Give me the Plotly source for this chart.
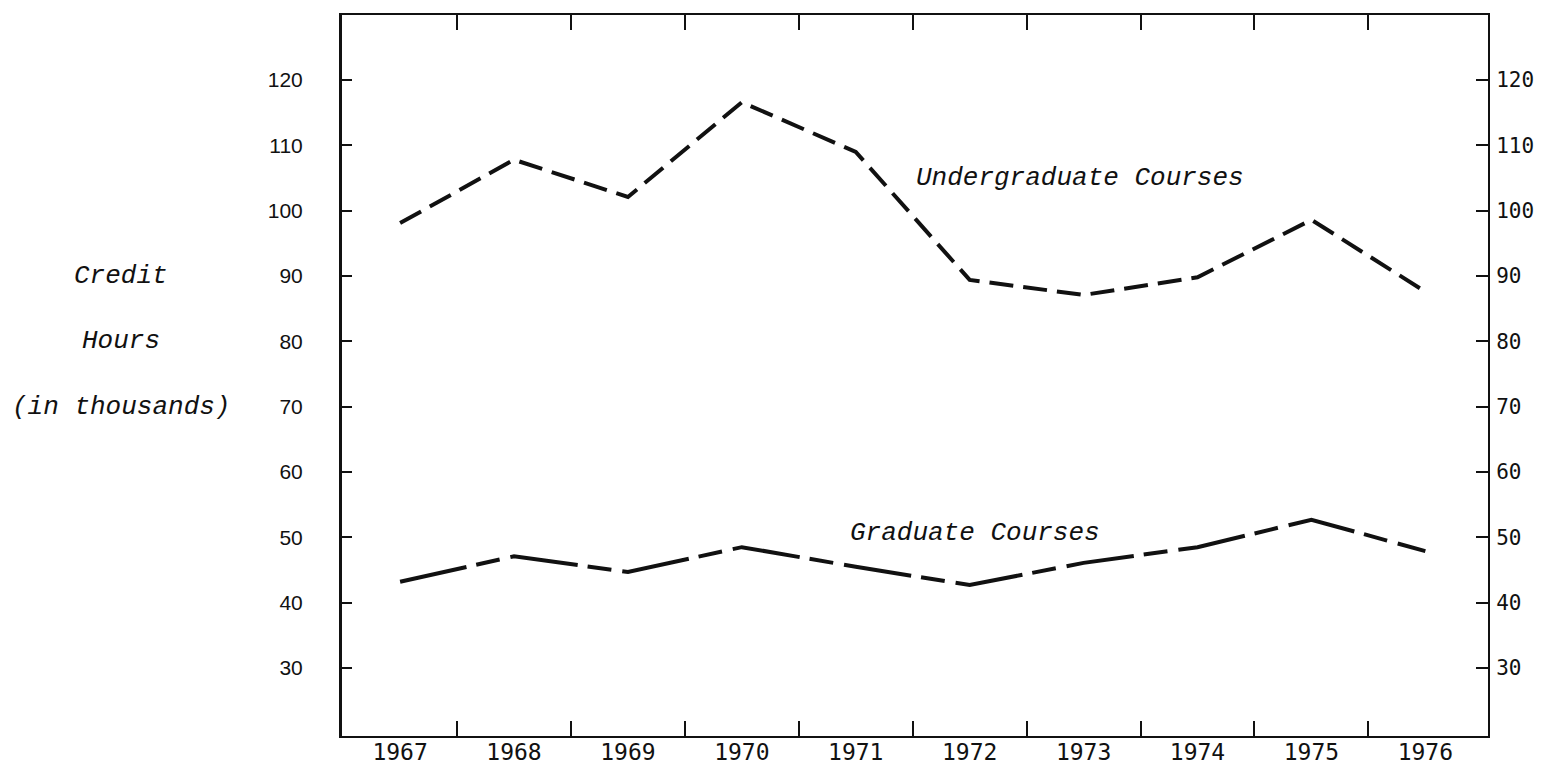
import plotly.graph_objects as go

# ---- data ----
years = [1967, 1968, 1969, 1970, 1971, 1972, 1973, 1974, 1975, 1976]
undergraduate = [98.1, 107.8, 102.1, 116.6, 109.0, 89.4, 87.1, 89.8, 98.6, 87.6]
graduate = [43.2, 47.1, 44.7, 48.5, 45.5, 42.7, 46.1, 48.5, 52.7, 47.9]
y_ticks = [30, 40, 50, 60, 70, 80, 90, 100, 110, 120]
year_bounds = [1967.5, 1968.5, 1969.5, 1970.5, 1971.5, 1972.5, 1973.5, 1974.5, 1975.5]
y_title_lines = ["Credit", "Hours", "(in thousands)"]
y_title_levels = [90, 80, 70]

X_RANGE = [1966.49, 1976.55]
Y_RANGE = [19.6, 129.95]
INK = "#111111"
ITALIC = dict(family="Liberation Mono, Courier New, monospace", size=26, color=INK)

fig = go.Figure()
fig.add_trace(go.Scatter(
    x=years, y=undergraduate, mode="lines",
    line=dict(color=INK, width=4, dash="24px,10px"),
    hoverinfo="skip", showlegend=False))
fig.add_trace(go.Scatter(
    x=years, y=graduate, mode="lines",
    line=dict(color=INK, width=4, dash="68px,10px,24px,11px"),
    hoverinfo="skip", showlegend=False))
# invisible helpers so the overlay axes get drawn
fig.add_trace(go.Scatter(x=years, y=graduate, mode="markers", marker=dict(opacity=0),
                         xaxis="x2", yaxis="y2", hoverinfo="skip", showlegend=False))
fig.add_trace(go.Scatter(x=years, y=graduate, mode="markers", marker=dict(opacity=0),
                         xaxis="x3", yaxis="y", hoverinfo="skip", showlegend=False))

common_x = dict(range=X_RANGE, showgrid=False, zeroline=False, fixedrange=True, automargin=False)
common_y = dict(range=Y_RANGE, showgrid=False, zeroline=False, fixedrange=True, automargin=False)

fig.update_layout(
    template="none",
    width=1543, height=758,
    margin=dict(l=334, r=63, t=7, b=30),
    paper_bgcolor="white", plot_bgcolor="white",
    showlegend=False, hovermode=False,
    xaxis=dict(**common_x, tickmode="array", tickvals=year_bounds, ticks="inside",
               ticklen=15, tickwidth=2, tickcolor=INK, showticklabels=False,
               showline=True, linewidth=2, linecolor=INK),
    xaxis2=dict(**common_x, overlaying="x", side="top", anchor="y2",
                tickmode="array", tickvals=year_bounds, ticks="inside",
                ticklen=15, tickwidth=2, tickcolor=INK, showticklabels=False,
                showline=True, linewidth=2, linecolor=INK),
    xaxis3=dict(**common_x, overlaying="x", side="bottom", anchor="y",
                tickmode="array", tickvals=years, ticktext=[str(y) for y in years],
                ticks="", showline=False, ticklabelstandoff=0,
                tickfont=dict(family="DejaVu Sans Mono", size=23, color=INK)),
    yaxis=dict(**common_y, tickmode="array", tickvals=y_ticks, ticks="inside",
               ticklen=10, tickwidth=2, tickcolor=INK, showline=True,
               linewidth=3, linecolor=INK, ticklabelstandoff=32,
               tickfont=dict(family="Liberation Sans, Arial, sans-serif", size=21, color=INK)),
    yaxis2=dict(**common_y, overlaying="y", side="right", anchor="x2",
                tickmode="array", tickvals=y_ticks, ticks="inside",
                ticklen=12, tickwidth=2, tickcolor=INK, showline=True,
                linewidth=2, linecolor=INK, ticklabelstandoff=2,
                tickfont=dict(family="DejaVu Sans Mono", size=21, color=INK)),
)

fig.add_annotation(text="<i>Undergraduate Courses</i>", x=1972.97, y=105.0,
                   xref="x", yref="y", showarrow=False, font=ITALIC)
fig.add_annotation(text="<i>Graduate Courses</i>", x=1972.05, y=50.7,
                   xref="x", yref="y", showarrow=False, font=ITALIC)
for line, level in zip(y_title_lines, y_title_levels):
    fig.add_annotation(text="<i>" + line + "</i>", x=-0.193, y=level, xref="paper", yref="y",
                       showarrow=False, font=ITALIC, xanchor="center")

fig.write_html("out.html")
